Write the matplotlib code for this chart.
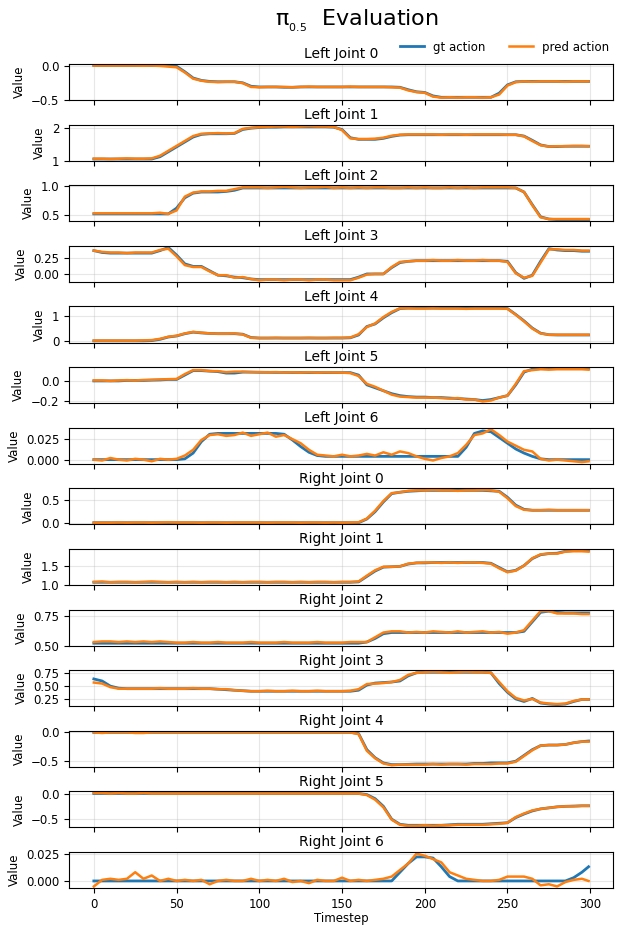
import matplotlib
matplotlib.use('Agg')
import matplotlib.pyplot as plt

# timesteps sampled every 5 steps (plus the last one)
timesteps = list(range(0, 300, 5)) + [299]

joint_names = ['Left Joint 0', 'Left Joint 1', 'Left Joint 2', 'Left Joint 3',
               'Left Joint 4', 'Left Joint 5', 'Left Joint 6',
               'Right Joint 0', 'Right Joint 1', 'Right Joint 2', 'Right Joint 3',
               'Right Joint 4', 'Right Joint 5', 'Right Joint 6']

left0_gt = [0, 0, 0, 0, 0, 0, 0, 0, 0, 0,
            -0.01, -0.09, -0.18, -0.215, -0.23, -0.235, -0.235, -0.235, -0.25, -0.30,
            -0.31, -0.31, -0.31, -0.315, -0.315, -0.31, -0.31, -0.31, -0.31, -0.31,
            -0.31, -0.31, -0.31, -0.31, -0.31, -0.31, -0.31, -0.315, -0.35, -0.38,
            -0.39, -0.44, -0.46, -0.46, -0.46, -0.46, -0.46, -0.46, -0.46, -0.40,
            -0.28, -0.235, -0.23, -0.23, -0.23, -0.23, -0.23, -0.23, -0.23, -0.23,
            -0.23]
left0_pred = [0, 0, 0, 0, 0, 0, -0.002, 0, -0.005, -0.015,
              -0.025, -0.10, -0.19, -0.22, -0.235, -0.24, -0.235, -0.235, -0.255, -0.31,
              -0.315, -0.31, -0.31, -0.31, -0.315, -0.31, -0.305, -0.31, -0.31, -0.31,
              -0.31, -0.305, -0.31, -0.31, -0.31, -0.31, -0.315, -0.32, -0.36, -0.385,
              -0.395, -0.45, -0.465, -0.46, -0.465, -0.46, -0.46, -0.465, -0.46, -0.42,
              -0.29, -0.24, -0.23, -0.235, -0.23, -0.23, -0.23, -0.235, -0.23, -0.23,
              -0.23]

left1_gt = [1.05, 1.05, 1.05, 1.05, 1.05, 1.05, 1.05, 1.05, 1.12, 1.27,
            1.42, 1.57, 1.72, 1.80, 1.82, 1.82, 1.82, 1.83, 1.95, 1.99,
            2.01, 2.02, 2.02, 2.03, 2.03, 2.03, 2.03, 2.03, 2.03, 2.02,
            1.95, 1.70, 1.65, 1.65, 1.65, 1.68, 1.74, 1.78, 1.79, 1.79,
            1.79, 1.79, 1.79, 1.79, 1.79, 1.79, 1.79, 1.79, 1.79, 1.79,
            1.79, 1.79, 1.75, 1.62, 1.48, 1.43, 1.43, 1.44, 1.44, 1.44,
            1.44]
left1_pred = [1.06, 1.06, 1.05, 1.06, 1.07, 1.06, 1.06, 1.07, 1.15, 1.30,
              1.45, 1.60, 1.75, 1.82, 1.83, 1.84, 1.83, 1.84, 1.97, 2.00,
              2.02, 2.03, 2.04, 2.04, 2.03, 2.04, 2.05, 2.04, 2.04, 2.03,
              1.93, 1.68, 1.66, 1.66, 1.67, 1.70, 1.76, 1.79, 1.80, 1.80,
              1.80, 1.80, 1.79, 1.80, 1.80, 1.79, 1.80, 1.80, 1.80, 1.80,
              1.79, 1.79, 1.74, 1.60, 1.47, 1.43, 1.44, 1.44, 1.45, 1.45,
              1.44]

left2_gt = [0.52, 0.52, 0.52, 0.52, 0.52, 0.52, 0.52, 0.52, 0.52, 0.52,
            0.62, 0.80, 0.88, 0.90, 0.90, 0.90, 0.91, 0.93, 0.97, 0.97,
            0.97, 0.97, 0.97, 0.97, 0.97, 0.97, 0.97, 0.97, 0.97, 0.97,
            0.97, 0.97, 0.97, 0.97, 0.97, 0.97, 0.97, 0.97, 0.97, 0.97,
            0.97, 0.97, 0.97, 0.97, 0.97, 0.97, 0.97, 0.97, 0.97, 0.97,
            0.97, 0.97, 0.90, 0.68, 0.47, 0.43, 0.42, 0.42, 0.42, 0.42,
            0.42]
left2_pred = [0.53, 0.53, 0.53, 0.53, 0.53, 0.53, 0.53, 0.53, 0.54, 0.52,
              0.58, 0.82, 0.89, 0.91, 0.91, 0.92, 0.92, 0.95, 0.98, 0.98,
              0.98, 0.97, 0.98, 0.99, 0.98, 0.97, 0.98, 0.98, 0.99, 0.97,
              0.98, 0.97, 0.98, 0.97, 0.98, 0.98, 0.97, 0.97, 0.98, 0.97,
              0.98, 0.97, 0.97, 0.98, 0.97, 0.98, 0.97, 0.98, 0.98, 0.98,
              0.98, 0.97, 0.90, 0.67, 0.46, 0.43, 0.43, 0.43, 0.43, 0.43,
              0.43]

left3_gt = [0.37, 0.34, 0.33, 0.33, 0.33, 0.33, 0.33, 0.33, 0.37, 0.42,
            0.30, 0.16, 0.12, 0.12, 0.05, -0.02, -0.03, -0.05, -0.06, -0.08,
            -0.09, -0.09, -0.09, -0.09, -0.09, -0.09, -0.09, -0.09, -0.09, -0.09,
            -0.09, -0.09, -0.05, 0.0, 0.0, 0.0, 0.10, 0.18, 0.20, 0.21,
            0.21, 0.21, 0.21, 0.21, 0.21, 0.21, 0.21, 0.21, 0.21, 0.21,
            0.20, 0.02, -0.07, -0.02, 0.20, 0.40, 0.38, 0.37, 0.37, 0.36,
            0.36]
left3_pred = [0.37, 0.35, 0.34, 0.34, 0.33, 0.34, 0.34, 0.34, 0.38, 0.40,
              0.28, 0.14, 0.11, 0.11, 0.04, -0.02, -0.02, -0.06, -0.05, -0.08,
              -0.10, -0.09, -0.09, -0.10, -0.09, -0.09, -0.10, -0.09, -0.09, -0.10,
              -0.10, -0.10, -0.06, -0.01, 0.0, 0.0, 0.11, 0.19, 0.20, 0.21,
              0.21, 0.22, 0.21, 0.21, 0.22, 0.21, 0.21, 0.22, 0.21, 0.21,
              0.19, 0.01, -0.06, -0.03, 0.18, 0.39, 0.39, 0.38, 0.38, 0.37,
              0.37]

left4_gt = [0.02, 0.02, 0.02, 0.02, 0.02, 0.02, 0.02, 0.03, 0.08, 0.17,
            0.21, 0.30, 0.36, 0.33, 0.31, 0.30, 0.30, 0.30, 0.28, 0.15,
            0.13, 0.13, 0.13, 0.13, 0.13, 0.13, 0.13, 0.13, 0.13, 0.13,
            0.13, 0.14, 0.25, 0.58, 0.68, 0.92, 1.12, 1.28, 1.30, 1.30,
            1.30, 1.30, 1.30, 1.30, 1.30, 1.30, 1.30, 1.30, 1.30, 1.30,
            1.28, 1.05, 0.80, 0.52, 0.32, 0.26, 0.25, 0.25, 0.25, 0.25,
            0.25]
left4_pred = [0.03, 0.03, 0.03, 0.03, 0.03, 0.03, 0.04, 0.05, 0.10, 0.18,
              0.22, 0.31, 0.37, 0.34, 0.31, 0.30, 0.30, 0.31, 0.27, 0.14,
              0.13, 0.13, 0.14, 0.13, 0.13, 0.13, 0.14, 0.13, 0.13, 0.14,
              0.14, 0.15, 0.28, 0.56, 0.70, 0.95, 1.15, 1.29, 1.29, 1.28,
              1.28, 1.29, 1.28, 1.28, 1.28, 1.27, 1.28, 1.28, 1.28, 1.28,
              1.27, 1.04, 0.78, 0.50, 0.31, 0.26, 0.26, 0.26, 0.26, 0.26,
              0.26]

left5_gt = [0.0, 0.0, 0.0, 0.0, 0.005, 0.005, 0.005, 0.008, 0.01, 0.015,
            0.015, 0.06, 0.105, 0.105, 0.10, 0.095, 0.08, 0.08, 0.09, 0.09,
            0.088, 0.088, 0.087, 0.087, 0.086, 0.086, 0.085, 0.085, 0.085, 0.085,
            0.085, 0.085, 0.06, -0.04, -0.07, -0.10, -0.13, -0.15, -0.16, -0.165,
            -0.165, -0.17, -0.17, -0.175, -0.18, -0.185, -0.19, -0.20, -0.19, -0.17,
            -0.15, -0.04, 0.09, 0.12, 0.125, 0.125, 0.125, 0.125, 0.125, 0.125,
            0.125]
left5_pred = [0.005, 0.005, 0.0, 0.005, 0.008, 0.005, 0.01, 0.012, 0.015, 0.018,
              0.02, 0.07, 0.11, 0.11, 0.10, 0.10, 0.09, 0.095, 0.095, 0.09,
              0.09, 0.088, 0.09, 0.087, 0.088, 0.086, 0.088, 0.085, 0.087, 0.086,
              0.085, 0.08, 0.05, -0.03, -0.06, -0.10, -0.14, -0.16, -0.165, -0.17,
              -0.17, -0.17, -0.175, -0.18, -0.175, -0.19, -0.19, -0.21, -0.20, -0.17,
              -0.15, -0.03, 0.10, 0.11, 0.12, 0.115, 0.12, 0.12, 0.12, 0.12,
              0.115]

left6_gt = [0, 0, 0, 0, 0, 0, 0, 0, 0, 0,
            0, 0.001, 0.008, 0.022, 0.031, 0.032, 0.032, 0.032, 0.032, 0.032,
            0.032, 0.032, 0.032, 0.031, 0.024, 0.016, 0.009, 0.005, 0.004, 0.004,
            0.004, 0.004, 0.004, 0.004, 0.004, 0.004, 0.004, 0.004, 0.004, 0.004,
            0.004, 0.004, 0.004, 0.004, 0.004, 0.015, 0.032, 0.035, 0.034, 0.027,
            0.020, 0.013, 0.008, 0.004, 0.001, 0, 0, 0, 0, 0,
            0]
left6_pred = [0.0, -0.001, 0.002, 0.0, -0.001, 0.001, 0.0, -0.002, 0.001, 0.0,
              0.001, 0.005, 0.012, 0.024, 0.030, 0.031, 0.029, 0.030, 0.033, 0.029,
              0.031, 0.033, 0.028, 0.030, 0.025, 0.020, 0.012, 0.006, 0.005, 0.004,
              0.006, 0.004, 0.005, 0.007, 0.005, 0.009, 0.006, 0.010, 0.008, 0.004,
              0.001, -0.001, 0.002, 0.004, 0.008, 0.018, 0.030, 0.032, 0.037, 0.030,
              0.022, 0.017, 0.012, 0.010, 0.001, -0.001, 0.0, -0.001, -0.002, -0.003,
              -0.002]

right0_gt = [0, 0, 0, 0, 0, 0, 0, 0, 0, 0,
             0, 0, 0, 0, 0, 0, 0, 0, 0, 0,
             0, 0, 0, 0, 0, 0, 0, 0, 0, 0,
             0, 0, 0.0, 0.08, 0.24, 0.45, 0.63, 0.66, 0.68, 0.69,
             0.70, 0.70, 0.70, 0.70, 0.70, 0.70, 0.70, 0.70, 0.69, 0.68,
             0.55, 0.38, 0.29, 0.27, 0.27, 0.27, 0.27, 0.27, 0.27, 0.27,
             0.27]
right0_pred = [0.0, 0.0, 0.0, 0.005, 0.0, 0.005, 0.005, 0.0, 0.005, 0.01,
               0.005, 0.005, 0.005, 0.0, 0.005, 0.005, 0.0, 0.005, 0.005, 0.005,
               0.005, 0.0, 0.005, 0.005, 0.005, 0.0, 0.005, 0.005, 0.0, 0.005,
               0.0, 0.005, 0.01, 0.09, 0.26, 0.47, 0.64, 0.66, 0.69, 0.70,
               0.70, 0.71, 0.70, 0.70, 0.69, 0.70, 0.70, 0.71, 0.70, 0.67,
               0.53, 0.36, 0.28, 0.27, 0.27, 0.28, 0.27, 0.27, 0.27, 0.27,
               0.27]

right1_gt = [1.07, 1.07, 1.07, 1.07, 1.07, 1.07, 1.07, 1.07, 1.07, 1.07,
             1.07, 1.07, 1.07, 1.07, 1.07, 1.07, 1.07, 1.07, 1.07, 1.07,
             1.07, 1.07, 1.07, 1.07, 1.07, 1.07, 1.07, 1.07, 1.07, 1.07,
             1.07, 1.07, 1.08, 1.22, 1.36, 1.46, 1.47, 1.48, 1.54, 1.57,
             1.57, 1.58, 1.58, 1.58, 1.58, 1.58, 1.58, 1.58, 1.56, 1.45,
             1.34, 1.38, 1.50, 1.68, 1.78, 1.81, 1.82, 1.87, 1.89, 1.89,
             1.89]
right1_pred = [1.08, 1.09, 1.07, 1.08, 1.08, 1.07, 1.08, 1.09, 1.08, 1.07,
               1.08, 1.07, 1.08, 1.07, 1.08, 1.08, 1.07, 1.08, 1.07, 1.08,
               1.08, 1.07, 1.08, 1.08, 1.07, 1.08, 1.07, 1.08, 1.08, 1.07,
               1.08, 1.08, 1.09, 1.24, 1.38, 1.47, 1.47, 1.48, 1.55, 1.57,
               1.58, 1.58, 1.57, 1.58, 1.57, 1.58, 1.58, 1.57, 1.55, 1.43,
               1.33, 1.37, 1.50, 1.69, 1.79, 1.81, 1.81, 1.86, 1.87, 1.87,
               1.86]

right2_gt = [0.52, 0.52, 0.52, 0.52, 0.52, 0.52, 0.52, 0.52, 0.52, 0.52,
             0.52, 0.52, 0.52, 0.52, 0.52, 0.52, 0.52, 0.52, 0.52, 0.52,
             0.52, 0.52, 0.52, 0.52, 0.52, 0.52, 0.52, 0.52, 0.52, 0.52,
             0.52, 0.52, 0.52, 0.53, 0.56, 0.60, 0.61, 0.61, 0.61, 0.61,
             0.61, 0.61, 0.61, 0.61, 0.61, 0.61, 0.61, 0.61, 0.61, 0.61,
             0.61, 0.61, 0.62, 0.70, 0.78, 0.79, 0.78, 0.775, 0.775, 0.775,
             0.775]
right2_pred = [0.53, 0.535, 0.535, 0.53, 0.535, 0.53, 0.535, 0.53, 0.535, 0.53,
               0.525, 0.525, 0.53, 0.525, 0.525, 0.53, 0.525, 0.525, 0.525, 0.53,
               0.525, 0.525, 0.525, 0.53, 0.525, 0.525, 0.525, 0.53, 0.525, 0.525,
               0.525, 0.53, 0.53, 0.53, 0.57, 0.61, 0.62, 0.62, 0.61, 0.615,
               0.61, 0.62, 0.615, 0.61, 0.62, 0.61, 0.615, 0.62, 0.61, 0.615,
               0.60, 0.61, 0.63, 0.71, 0.79, 0.79, 0.77, 0.77, 0.77, 0.765,
               0.765]

right3_gt = [0.64, 0.60, 0.50, 0.46, 0.45, 0.45, 0.45, 0.45, 0.45, 0.45,
             0.45, 0.45, 0.45, 0.45, 0.45, 0.44, 0.43, 0.42, 0.41, 0.40,
             0.40, 0.40, 0.40, 0.40, 0.40, 0.40, 0.40, 0.40, 0.40, 0.40,
             0.40, 0.40, 0.42, 0.52, 0.56, 0.57, 0.58, 0.60, 0.70, 0.76,
             0.77, 0.77, 0.77, 0.77, 0.77, 0.77, 0.77, 0.77, 0.76, 0.55,
             0.38, 0.25, 0.20, 0.26, 0.17, 0.15, 0.14, 0.15, 0.20, 0.24,
             0.24]
right3_pred = [0.57, 0.55, 0.48, 0.45, 0.45, 0.45, 0.45, 0.45, 0.46, 0.45,
               0.45, 0.45, 0.46, 0.45, 0.45, 0.44, 0.44, 0.42, 0.41, 0.40,
               0.40, 0.41, 0.40, 0.40, 0.41, 0.40, 0.40, 0.41, 0.40, 0.40,
               0.40, 0.41, 0.44, 0.54, 0.55, 0.56, 0.58, 0.62, 0.72, 0.76,
               0.77, 0.78, 0.77, 0.76, 0.77, 0.78, 0.77, 0.77, 0.76, 0.58,
               0.40, 0.27, 0.22, 0.25, 0.18, 0.16, 0.15, 0.16, 0.21, 0.24,
               0.24]

right4_gt = [0, 0, 0, 0, 0, 0, 0, 0, 0, 0,
             0, 0, 0, 0, 0, 0, 0, 0, 0, 0,
             0, 0, 0, 0, 0, 0, 0, 0, 0, 0,
             0, 0, -0.02, -0.30, -0.44, -0.53, -0.56, -0.56, -0.555, -0.55,
             -0.55, -0.55, -0.55, -0.55, -0.55, -0.55, -0.54, -0.54, -0.53, -0.53,
             -0.53, -0.50, -0.40, -0.30, -0.23, -0.22, -0.22, -0.21, -0.18, -0.16,
             -0.15]
right4_pred = [0.0, -0.01, 0.0, 0.0, 0.0, -0.01, -0.01, 0.0, 0.0, 0.0,
               0.0, 0.0, 0.0, 0.0, 0.0, 0.0, 0.0, 0.0, 0.0, 0.0,
               0.0, 0.0, 0.0, 0.0, 0.0, 0.0, 0.0, 0.0, 0.0, 0.0,
               0.0, 0.0, -0.03, -0.32, -0.45, -0.54, -0.57, -0.56, -0.56, -0.56,
               -0.56, -0.55, -0.56, -0.55, -0.55, -0.56, -0.55, -0.55, -0.55, -0.54,
               -0.54, -0.51, -0.41, -0.31, -0.23, -0.22, -0.22, -0.21, -0.18, -0.16,
               -0.16]

right5_gt = [0, 0, 0, 0, 0, 0, 0, 0, 0, 0,
             0, 0, 0, 0, 0, 0, 0, 0, 0, 0,
             0, 0, 0, 0, 0, 0, 0, 0, 0, 0,
             0, 0, 0, -0.02, -0.10, -0.25, -0.50, -0.60, -0.62, -0.62,
             -0.62, -0.62, -0.62, -0.61, -0.60, -0.60, -0.60, -0.60, -0.59, -0.58,
             -0.57, -0.47, -0.40, -0.34, -0.30, -0.28, -0.26, -0.25, -0.245, -0.24,
             -0.24]
right5_pred = [0.01, 0.01, 0.0, 0.01, 0.0, 0.0, 0.01, 0.0, 0.0, 0.0,
               0.0, 0.0, 0.0, 0.0, 0.0, 0.0, 0.0, 0.0, 0.0, 0.0,
               0.0, 0.0, 0.0, 0.0, 0.0, 0.0, 0.0, 0.0, 0.0, 0.0,
               0.0, 0.0, 0.0, -0.03, -0.12, -0.27, -0.51, -0.61, -0.63, -0.63,
               -0.62, -0.63, -0.62, -0.62, -0.61, -0.61, -0.61, -0.61, -0.60, -0.59,
               -0.57, -0.46, -0.39, -0.33, -0.30, -0.28, -0.26, -0.25, -0.25, -0.24,
               -0.24]

right6_gt = [0, 0, 0, 0, 0, 0, 0, 0, 0, 0,
             0, 0, 0, 0, 0, 0, 0, 0, 0, 0,
             0, 0, 0, 0, 0, 0, 0, 0, 0, 0,
             0, 0, 0, 0, 0, 0, 0.0, 0.008, 0.016, 0.022,
             0.022, 0.021, 0.013, 0.004, 0.0, 0, 0, 0, 0, 0,
             0, 0, 0, 0, 0, 0, 0, 0, 0.003, 0.008,
             0.013]
right6_pred = [-0.005, 0.001, 0.002, 0.001, 0.002, 0.008, 0.002, 0.005, 0.0, 0.002,
               0.0, 0.001, 0.0, 0.001, -0.003, 0.0, 0.001, 0.0, 0.0, 0.002,
               0.0, 0.001, 0.0, 0.002, -0.001, 0.0, -0.002, 0.001, 0.0, 0.0,
               0.003, 0.0, 0.001, 0.0, 0.001, 0.002, 0.004, 0.010, 0.016, 0.025,
               0.023, 0.020, 0.017, 0.008, 0.005, 0.002, 0.001, 0.0, 0.0, 0.001,
               0.004, 0.004, 0.004, 0.002, -0.004, -0.003, -0.005, -0.001, 0.001, 0.002,
               0.0]

gt_series = [left0_gt, left1_gt, left2_gt, left3_gt, left4_gt, left5_gt, left6_gt,
             right0_gt, right1_gt, right2_gt, right3_gt, right4_gt, right5_gt, right6_gt]
pred_series = [left0_pred, left1_pred, left2_pred, left3_pred, left4_pred, left5_pred, left6_pred,
               right0_pred, right1_pred, right2_pred, right3_pred, right4_pred, right5_pred, right6_pred]

y_ticks = [[-0.5, 0.0], [1, 2], [0.5, 1.0], [0.0, 0.25], [0, 1], [-0.2, 0.0], [0.0, 0.025],
           [0.0, 0.5], [1.0, 1.5], [0.5, 0.75], [0.25, 0.5, 0.75], [-0.5, 0.0], [-0.5, 0.0],
           [0.0, 0.025]]

fig, axes = plt.subplots(14, 1, sharex=True, figsize=(6.17, 9.27), dpi=100)
fig.subplots_adjust(left=0.112, right=0.994, top=0.931, bottom=0.042, hspace=0.68)

for i, ax in enumerate(axes):
    ax.plot(timesteps, gt_series[i], color='tab:blue', lw=2.0, label='gt action')
    ax.plot(timesteps, pred_series[i], color='tab:orange', lw=1.8, label='pred action')
    ax.set_title(joint_names[i], fontsize=10, pad=4)
    ax.set_ylabel('Value', fontsize=8.5)
    ax.set_yticks(y_ticks[i])
    ax.tick_params(labelsize=8.5)
    ax.grid(True, alpha=0.3)

axes[-1].set_xticks([0, 50, 100, 150, 200, 250, 300])
axes[-1].set_xlabel('Timestep', fontsize=8.5, labelpad=1)

handles, labels = axes[0].get_legend_handles_labels()
fig.legend(handles, labels, loc='center right', bbox_to_anchor=(0.995, 1 - 47 / 927),
           ncol=2, frameon=False, fontsize=8.5, borderaxespad=0)

fig.suptitle('π$_{_{0.5}}$  Evaluation', fontsize=16, x=0.578, y=0.991)

plt.savefig('out.png', dpi=100)
